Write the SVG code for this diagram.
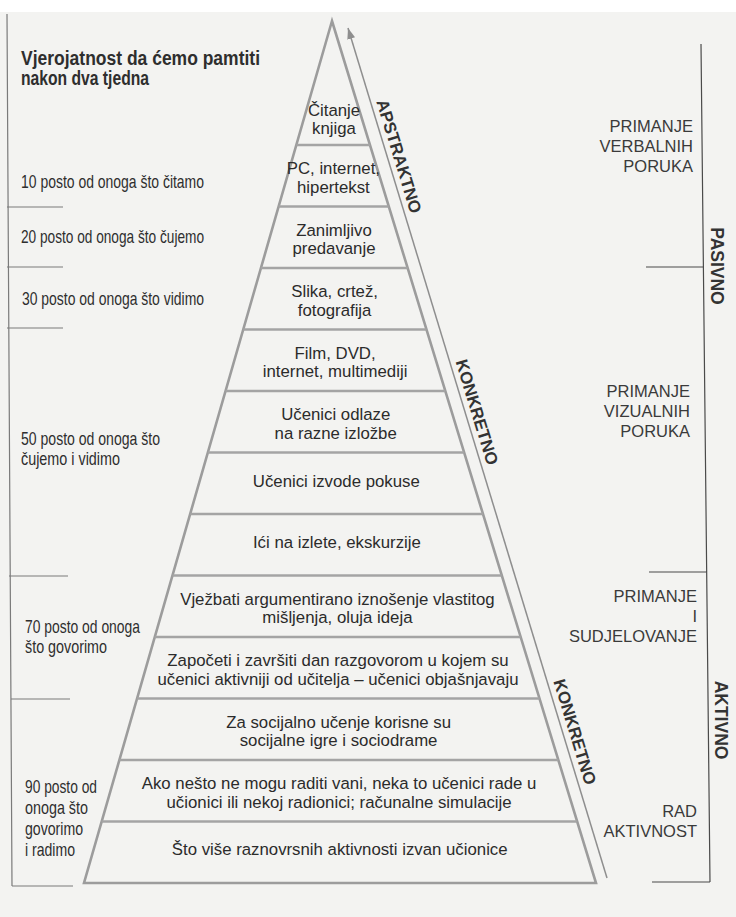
<svg xmlns="http://www.w3.org/2000/svg" width="736" height="917" viewBox="0 0 736 917">
  <defs>
    <style>
      .bg { fill: #f3f3f1; }
      .edge { fill: none; stroke: #9c9c9c; stroke-width: 2.6; stroke-linejoin: miter; }
      .sep { stroke: #a4a4a4; stroke-width: 2.4; }
      .arrow { stroke: #8e8e8e; stroke-width: 1.5; fill: none; }
      .bracket { stroke: #4a4a4a; stroke-width: 1.2; fill: none; }
      .lbracket { stroke: #7a7a7a; stroke-width: 1.2; fill: none; }
      .pt { font-family: "Liberation Sans", Arial, sans-serif; font-size: 16.8px; fill: #2b2b2b; text-anchor: middle; }
      .lt { font-family: "Liberation Sans Narrow", "Liberation Sans", Arial, sans-serif; font-size: 18.5px; fill: #2e2e2e; }
      .title { font-family: "Liberation Sans Narrow", "Liberation Sans", Arial, sans-serif; font-size: 19.5px; font-weight: bold; fill: #2e2e2e; }
      .rt { font-family: "Liberation Sans", Arial, sans-serif; font-size: 16.5px; fill: #3a3a3a; text-anchor: end; }
      .rot { font-family: "Liberation Sans", Arial, sans-serif; font-size: 17px; font-weight: bold; fill: #333; }
      .vert { font-family: "Liberation Sans", Arial, sans-serif; font-size: 17.5px; font-weight: bold; fill: #333; text-anchor: middle; }
    </style>
    <marker id="head" markerUnits="userSpaceOnUse" markerWidth="11" markerHeight="8" refX="11" refY="4" orient="auto">
      <path d="M0,0 L11,4 L0,8 z" fill="#8e8e8e"/>
    </marker>
  </defs>

  <rect class="bg" x="0" y="12" width="736" height="905"/>
  <rect x="0" y="0" width="736" height="12" fill="#ffffff"/>

  <g id="connectors">
    <line class="arrow" x1="607" y1="878" x2="348" y2="28" marker-end="url(#head)"/>
  </g>

  <g id="pyramid">
    <polygon class="edge" points="332,21 596,883 84,883"/>
    <line class="sep" x1="296.3" y1="145" x2="370.0" y2="145"/>
    <line class="sep" x1="278.6" y1="206.5" x2="388.8" y2="206.5"/>
    <line class="sep" x1="260.9" y1="268" x2="407.6" y2="268"/>
    <line class="sep" x1="243.2" y1="329.5" x2="426.5" y2="329.5"/>
    <line class="sep" x1="225.6" y1="391" x2="445.3" y2="391"/>
    <line class="sep" x1="207.9" y1="452.5" x2="464.2" y2="452.5"/>
    <line class="sep" x1="190.2" y1="514" x2="483.0" y2="514"/>
    <line class="sep" x1="172.5" y1="575.5" x2="501.8" y2="575.5"/>
    <line class="sep" x1="154.8" y1="637" x2="520.7" y2="637"/>
    <line class="sep" x1="137.1" y1="698.5" x2="539.5" y2="698.5"/>
    <line class="sep" x1="119.4" y1="760" x2="558.3" y2="760"/>
    <line class="sep" x1="101.7" y1="821.5" x2="577.2" y2="821.5"/>
  </g>

  <g id="level-1"><text class="pt" x="334" y="116">Čitanje</text><text class="pt" x="334" y="134">knjiga</text></g>
  <g id="level-2"><text class="pt" x="333.4" y="174.3">PC, internet,</text><text class="pt" x="333.4" y="192.8">hipertekst</text></g>
  <g id="level-3"><text class="pt" x="334" y="235.8">Zanimljivo</text><text class="pt" x="334" y="254.3">predavanje</text></g>
  <g id="level-4"><text class="pt" x="334.6" y="297.3">Slika, crtež,</text><text class="pt" x="334.6" y="315.8">fotografija</text></g>
  <g id="level-5"><text class="pt" x="335.1" y="358.8">Film, DVD,</text><text class="pt" x="335.1" y="377.3">internet, multimediji</text></g>
  <g id="level-6"><text class="pt" x="335.7" y="420.3">Učenici odlaze</text><text class="pt" x="335.7" y="438.8">na razne izložbe</text></g>
  <g id="level-7"><text class="pt" x="336.3" y="486.5">Učenici izvode pokuse</text></g>
  <g id="level-8"><text class="pt" x="336.9" y="548">Ići na izlete, ekskurzije</text></g>
  <g id="level-9"><text class="pt" x="337.4" y="604.8">Vježbati argumentirano iznošenje vlastitog</text><text class="pt" x="337.4" y="623.3">mišljenja, oluja ideja</text></g>
  <g id="level-10"><text class="pt" x="338" y="666.3">Započeti i završiti dan razgovorom u kojem su</text><text class="pt" x="338" y="684.8">učenici aktivniji od učitelja – učenici objašnjavaju</text></g>
  <g id="level-11"><text class="pt" x="338.6" y="727.8">Za socijalno učenje korisne su</text><text class="pt" x="338.6" y="746.3">socijalne igre i sociodrame</text></g>
  <g id="level-12"><text class="pt" x="339.1" y="789.3">Ako nešto ne mogu raditi vani, neka to učenici rade u</text><text class="pt" x="339.1" y="807.8">učionici ili nekoj radionici; računalne simulacije</text></g>
  <g id="level-13"><text class="pt" x="339.7" y="855.3">Što više raznovrsnih aktivnosti izvan učionice</text></g>

  <g id="axis-labels">
    <text class="rot" transform="translate(376.2,101.4) rotate(73)">APSTRAKTNO</text>
    <text class="rot" transform="translate(455.4,361.4) rotate(73)">KONKRETNO</text>
    <text class="rot" transform="translate(553.3,681.2) rotate(73)">KONKRETNO</text>
  </g>

  <g id="left-scale">
    <text class="title" x="21" y="65" textLength="239" lengthAdjust="spacingAndGlyphs">Vjerojatnost da ćemo pamtiti</text>
    <text class="title" x="21" y="85" textLength="128" lengthAdjust="spacingAndGlyphs">nakon dva tjedna</text>
    <path class="lbracket" d="M7,14 L12,886 M7,207 L63,207 M7,267 L63,267 M7,328 L63,328 M9,576 L68,576 M11,699 L70,699 M12,886 L73,886"/>
    <g id="retain-10"><text class="lt" x="21" y="188" textLength="183" lengthAdjust="spacingAndGlyphs">10 posto od onoga što čitamo</text></g>
    <g id="retain-20"><text class="lt" x="21" y="243" textLength="183" lengthAdjust="spacingAndGlyphs">20 posto od onoga što čujemo</text></g>
    <g id="retain-30"><text class="lt" x="22" y="305" textLength="182" lengthAdjust="spacingAndGlyphs">30 posto od onoga što vidimo</text></g>
    <g id="retain-50"><text class="lt" x="21" y="445" textLength="139" lengthAdjust="spacingAndGlyphs">50 posto od onoga što</text><text class="lt" x="21" y="465" textLength="99" lengthAdjust="spacingAndGlyphs">čujemo i vidimo</text></g>
    <g id="retain-70"><text class="lt" x="25" y="633" textLength="115" lengthAdjust="spacingAndGlyphs">70 posto od onoga</text><text class="lt" x="25" y="653" textLength="82" lengthAdjust="spacingAndGlyphs">što govorimo</text></g>
    <g id="retain-90"><text class="lt" x="25" y="793" textLength="72" lengthAdjust="spacingAndGlyphs">90 posto od</text><text class="lt" x="25" y="814" textLength="63" lengthAdjust="spacingAndGlyphs">onoga što</text><text class="lt" x="25" y="835" textLength="58" lengthAdjust="spacingAndGlyphs">govorimo</text><text class="lt" x="25" y="856" textLength="50" lengthAdjust="spacingAndGlyphs">i radimo</text></g>
  </g>

  <g id="right-scale">
    <path class="bracket" d="M701,44 L710,882 M646,267 L703.4,267 M649,572 L706.7,572 M652,882 L710,882"/>
    <g id="verbal"><text class="rt" x="693" y="132">PRIMANJE</text><text class="rt" x="693" y="152">VERBALNIH</text><text class="rt" x="693" y="172">PORUKA</text></g>
    <g id="visual"><text class="rt" x="690" y="397">PRIMANJE</text><text class="rt" x="690" y="417">VIZUALNIH</text><text class="rt" x="690" y="437">PORUKA</text></g>
    <g id="participation"><text class="rt" x="697" y="602">PRIMANJE</text><text class="rt" x="697" y="622">I</text><text class="rt" x="697" y="642">SUDJELOVANJE</text></g>
    <g id="work"><text class="rt" x="697" y="817">RAD</text><text class="rt" x="697" y="837">AKTIVNOST</text></g>
    <g id="passive"><text class="vert" transform="translate(711,266) rotate(90)">PASIVNO</text></g>
    <g id="active"><text class="vert" transform="translate(715,720) rotate(90)">AKTIVNO</text></g>
  </g>
</svg>
